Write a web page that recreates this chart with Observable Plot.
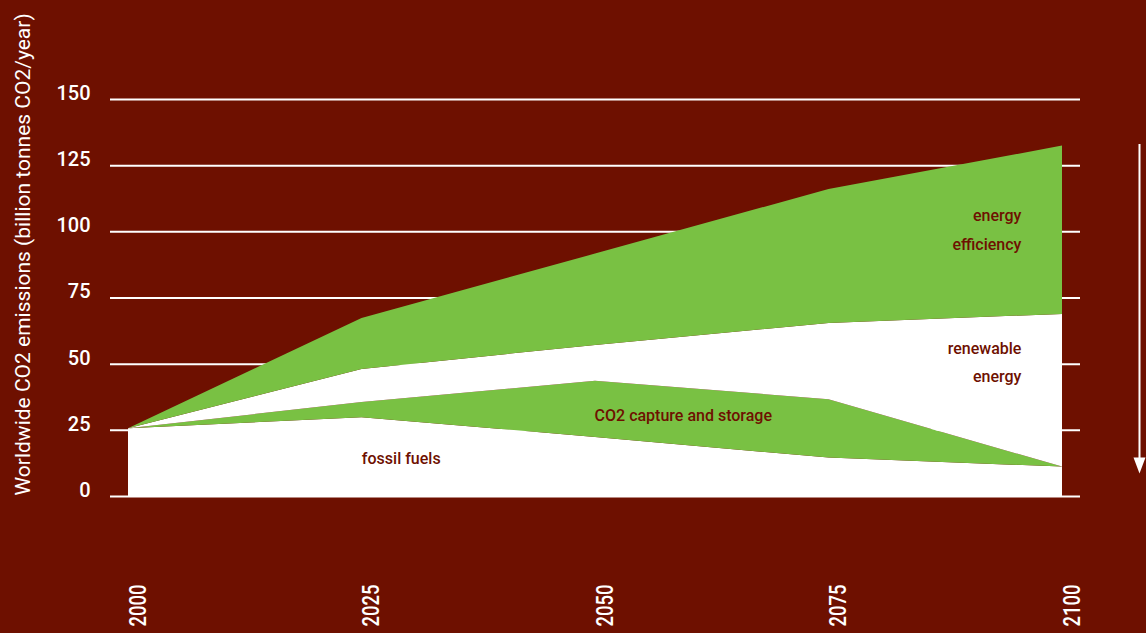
<!DOCTYPE html>
<html><head><meta charset="utf-8">
<script src="https://cdn.jsdelivr.net/npm/d3@7"></script>
<script src="https://cdn.jsdelivr.net/npm/@observablehq/plot@0.6"></script>
<style>html,body{margin:0;padding:0;background:#6e1000;overflow:hidden;}</style>
</head><body><div id="chart"></div>
<script>
// ---- data ----
const years = [2000, 2025, 2050, 2075, 2100];
const fossilFuels      = [25.6, 29.8, 22.3, 14.5, 11.1];
const co2Capture       = [0.0, 5.7, 21.2, 22.1, 0.0];
const renewableEnergy  = [0.0, 12.5, 13.6, 28.8, 57.7];
const energyEfficiency = [0.0, 19.3, 34.5, 50.6, 63.6];
const seriesNames  = ["fossil fuels", "CO2 capture and storage", "renewable energy", "energy efficiency"];
const seriesColors = ["#ffffff", "#79c143", "#ffffff", "#79c143"];
const yTicks = [0, 25, 50, 75, 100, 125, 150];
const xTicks = years;
const yLabel = "Worldwide CO2 emissions (billion tonnes CO2/year)";
const sideLabels = ["energy\nefficiency", "renewable\nenergy"];
const sideLabelYears = [2095.6, 2095.6];
const sideLabelValues = [93.3, 43.1];
const midLabels = ["CO2 capture and storage", "fossil fuels"];
const midLabelYears = [2059.4, 2029.2];
const midLabelValues = [28.7, 12.1];

// ---- build table ----
const seriesValues = [fossilFuels, co2Capture, renewableEnergy, energyEfficiency];
const rows = [];
seriesNames.forEach((s, si) => years.forEach((yr, i) => rows.push({series: s, year: yr, value: seriesValues[si][i]})));
const last = years.length - 1;
const total = seriesValues.reduce((a, v) => a + v[last], 0);
const arrowData = [{year: years[last], top: total, bottom: fossilFuels[last]}];
const side = sideLabels.map((t, i) => ({text: t, year: sideLabelYears[i], value: sideLabelValues[i]}));
const mid = midLabels.map((t, i) => ({text: t, year: midLabelYears[i], value: midLabelValues[i]}));

const bg = "#6e1000";
const chart = Plot.plot({
  width: 1146,
  height: 633,
  marginLeft: 128,
  marginRight: 84,
  marginTop: 99,
  marginBottom: 137,
  style: {background: bg, color: "white", fontFamily: "Roboto, sans-serif", overflow: "visible"},
  x: {domain: [2000, 2100], label: null},
  y: {domain: [0, 150], label: null},
  color: {domain: seriesNames, range: seriesColors},
  marks: [
    Plot.ruleY(yTicks, {stroke: "white", strokeWidth: 2, insetLeft: -18, insetRight: -18}),
    Plot.areaY(rows, {x: "year", y: "value", z: "series", fill: "series", curve: "linear"}),
    Plot.axisY({ticks: yTicks, tickSize: 0, tickPadding: 38, fontSize: 20, fontWeight: 500, dy: -6, fill: "white"}),
    Plot.axisX({ticks: xTicks, tickFormat: d => String(d), tickRotate: -90, tickSize: 0, tickPadding: 88, dx: 9.7,
                fontSize: 23, fontWeight: 500, fill: "white"}),
    Plot.text([yLabel], {text: d => d, frameAnchor: "bottom-left", rotate: -90, textAnchor: "start", lineAnchor: "bottom",
                dx: -99, dy: -1, fontSize: 21, fill: "white"}),
    Plot.text(side, {x: "year", y: "value", text: "text", textAnchor: "end", lineAnchor: "bottom", lineHeight: 1.8,
                fontSize: 16, fontWeight: 500, fill: bg}),
    Plot.text(mid, {x: "year", y: "value", text: "text", textAnchor: "middle", lineAnchor: "bottom",
                fontSize: 16, fontWeight: 500, fill: bg}),
    Plot.ruleX(arrowData, {x: "year", y1: "top", y2: "bottom", dx: 77, stroke: "white", strokeWidth: 2, insetTop: -1.5, insetBottom: 4}),
    Plot.vector(arrowData, {x: "year", y: "bottom", dx: 77, dy: 6.3, anchor: "end", rotate: 180, shape: "spike",
                length: 16, r: 6, fill: "white", stroke: "none"})
  ]
});
// condense the rotated year labels along their reading direction (narrow lettering in the reference)
const yearStrings = xTicks.map(String);
d3.select(chart).selectAll("text")
  .filter(function() { return yearStrings.includes(this.textContent.trim()); })
  .attr("textLength", 42)
  .attr("lengthAdjust", "spacingAndGlyphs");
document.getElementById("chart").appendChild(chart);
</script>
</body></html>
